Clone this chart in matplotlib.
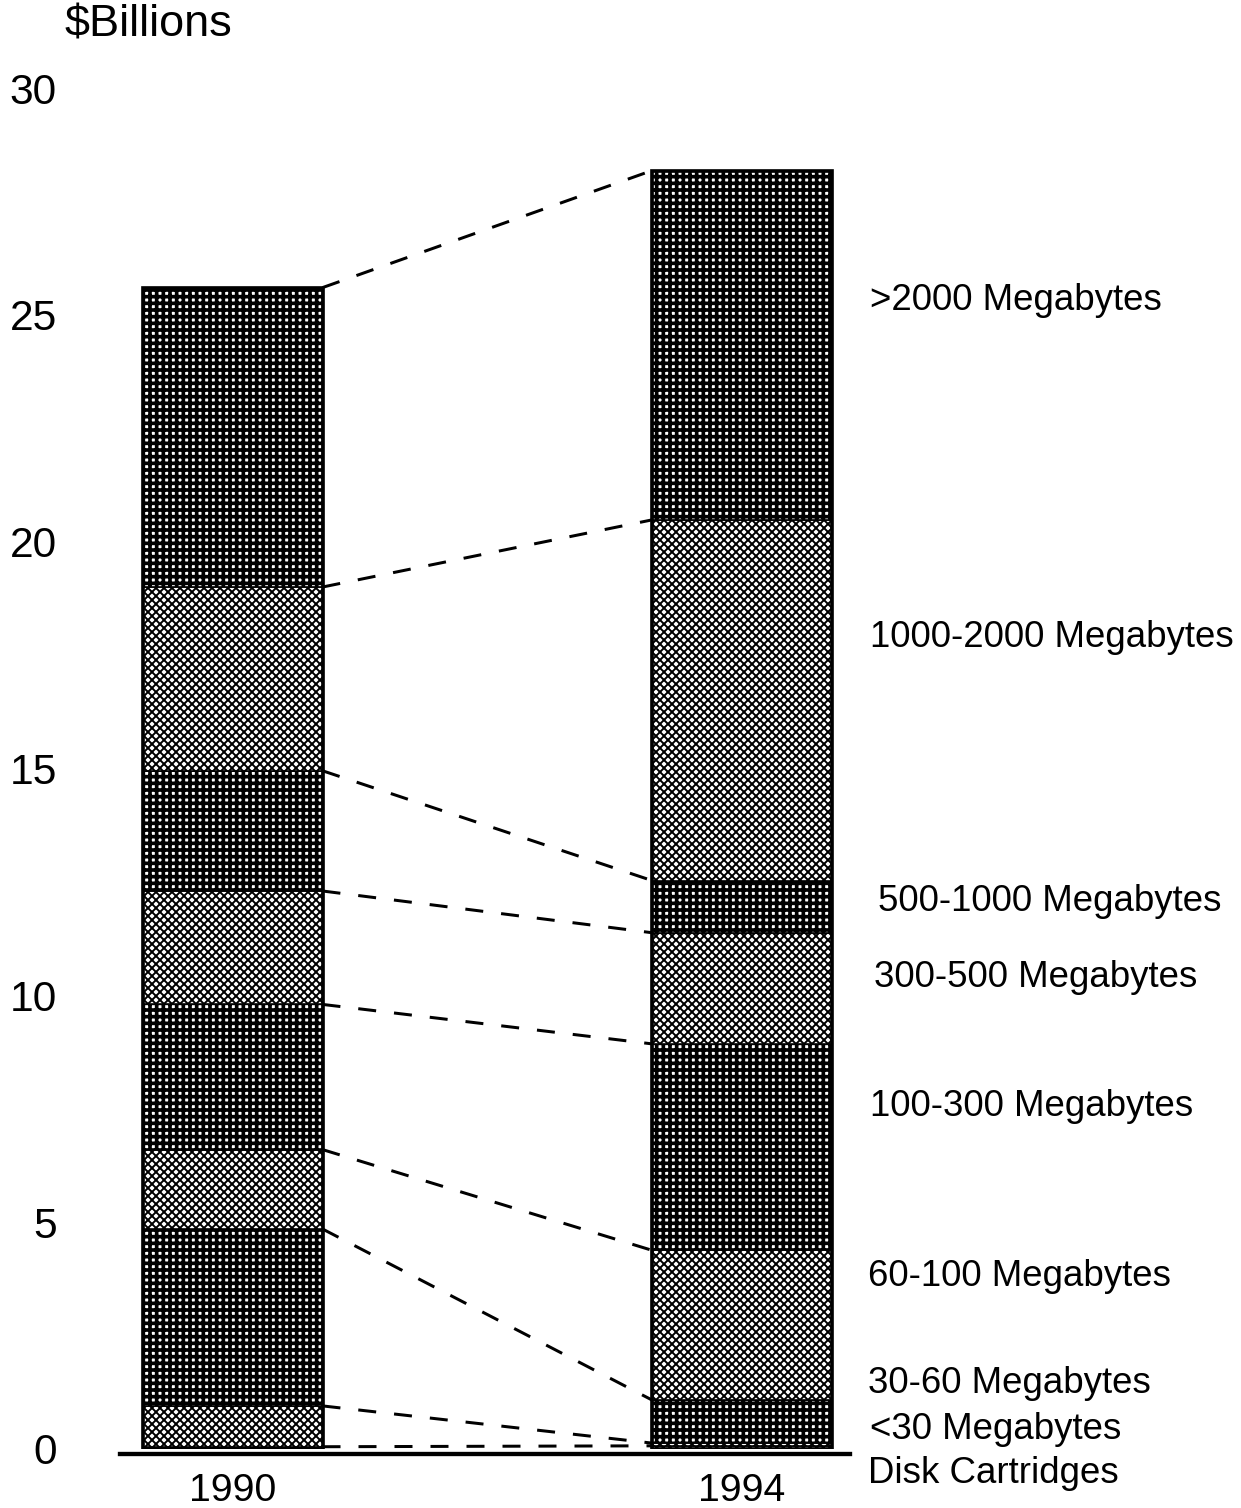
import matplotlib
matplotlib.use("Agg")
import matplotlib.pyplot as plt
import numpy as np

plt.rcParams["font.family"] = ["Liberation Sans", "DejaVu Sans"]

# disk drive revenue by capacity class, $ billions (bottom to top)
years = ["1990", "1994"]
segments = [
  "Disk Cartridges",
  "<30 Megabytes",
  "30-60 Megabytes",
  "60-100 Megabytes",
  "100-300 Megabytes",
  "300-500 Megabytes",
  "500-1000 Megabytes",
  "1000-2000 Megabytes",
  ">2000 Megabytes",
]
values_1990 = [0.05, 0.9, 3.9, 1.75, 3.2, 2.5, 2.65, 4.05, 6.6]
values_1994 = [0.07, 0.06, 0.95, 3.3, 4.55, 2.45, 1.15, 7.95, 7.7]

# where each segment name sits on the right (in $B)
label_y = [-0.53, 0.42, 1.45, 3.81, 7.56, 10.40, 12.06, 17.88, 25.32]
label_dx = [0, 2, 0, 0, 2, 6, 10, 2, 2]

# dark = black with white dots, light = grey checker
dark = [True, False, True, False, True, False, True, False, True]

DPI = 120
fig = plt.figure(figsize=(1241 / DPI, 1508 / DPI), dpi=DPI)
W, H = 1241.0, 1508.0

px_per_unit = 509.5
left_px = 60
ax = fig.add_axes([left_px / W, (H - 1449) / H, 1 - left_px / W, (1449 - 88) / H])
ax.set_xlim(-(232.5 - left_px) / px_per_unit, (W - 232.5) / px_per_unit)
ax.set_ylim(0, 30)
for s in ax.spines.values():
  s.set_visible(False)
ax.set_xticks([])
ax.set_yticks(np.arange(0, 31, 5))
ax.tick_params(axis="y", length=0, pad=2, labelsize=25.5)

bar_w = 180 / px_per_unit
xs = np.arange(len(years))

for i, vals in enumerate([values_1990, values_1994]):
  bottoms = np.concatenate([[0], np.cumsum(vals)[:-1]])
  for v, b, d in zip(vals, bottoms, dark):
    if d:
      with plt.rc_context({"hatch.linewidth": 2.2}):
        ax.bar(xs[i], v, bar_w, bottom=b, facecolor="white",
               edgecolor="black", hatch="+++", linewidth=1.0)
    else:
      with plt.rc_context({"hatch.linewidth": 1.15}):
        ax.bar(xs[i], v, bar_w, bottom=b, facecolor="white",
               edgecolor="black", hatch="xxxxx", linewidth=1.0)
  ax.bar(xs[i], sum(vals), bar_w, fill=False, edgecolor="black", linewidth=2.2)

# dashed connectors between matching segment tops
tops_a = np.cumsum(values_1990)
tops_b = np.cumsum(values_1994)
for ya, yb in zip(tops_a, tops_b):
  ax.plot([xs[0] + bar_w / 2, xs[1] - bar_w / 2], [ya, yb], color="black",
          linewidth=1.8, dashes=(6, 6), solid_capstyle="butt")

# baseline
ax.plot([(120 - 232.5) / px_per_unit, (850 - 232.5) / px_per_unit], [-0.1, -0.1],
        color="black", linewidth=2.6, clip_on=False)

for name, y, dx in zip(segments, label_y, label_dx):
  ax.text((868 + dx - 232.5) / px_per_unit, y, name, fontsize=22,
          ha="left", va="center", clip_on=False)

for x, yr in zip(xs, years):
  ax.text(x, -0.92, yr, fontsize=23.5, ha="center", va="center", clip_on=False)

fig.text(65 / W, 1 - 25 / H, "$Billions", fontsize=27, ha="left", va="center")

fig.savefig("out.png", dpi=DPI)
